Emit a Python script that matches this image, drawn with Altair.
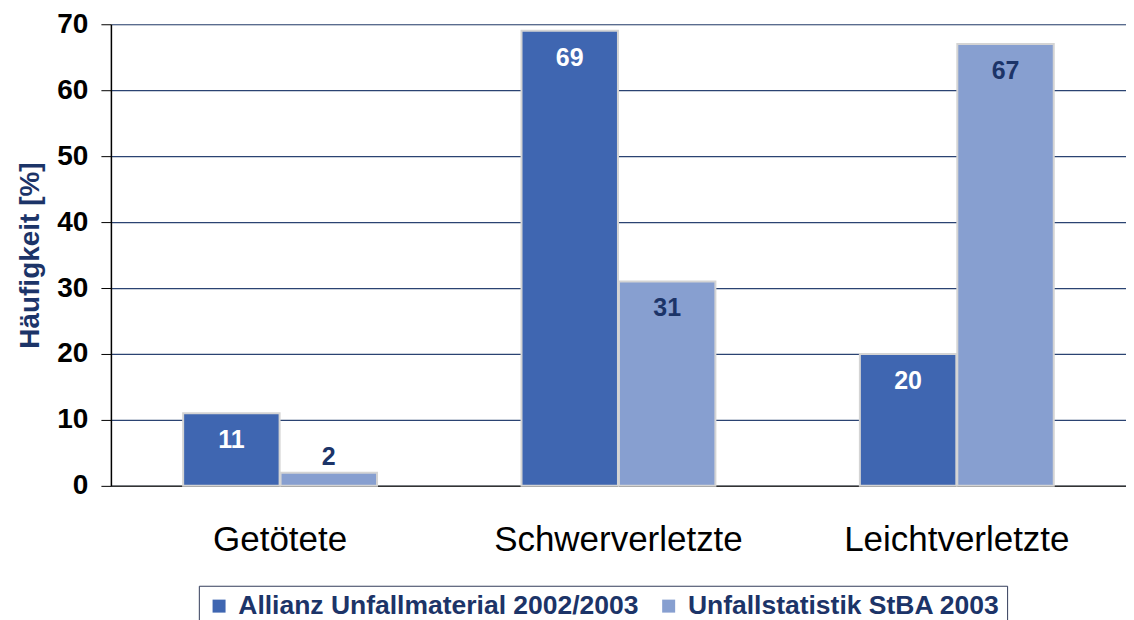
import altair as alt
import pandas as pd

categories = ["Getötete", "Schwerverletzte", "Leichtverletzte"]
series = ["Allianz Unfallmaterial 2002/2003", "Unfallstatistik StBA 2003"]
allianz = [11, 69, 20]
stba = [2, 31, 67]

rows = []
for c, a, s in zip(categories, allianz, stba):
    rows.append({"cat": c, "series": series[0], "value": a})
    rows.append({"cat": c, "series": series[1], "value": s})
df = pd.DataFrame(rows)

colors = ["#3f66b1", "#879fd0"]
navy = "#1c3468"

x = alt.X("cat:N", sort=categories, title=None,
          scale=alt.Scale(paddingInner=0.427, paddingOuter=0.2135),
          axis=alt.Axis(labelAngle=0, labelFontSize=35, labelFont="Liberation Sans",
                        labelColor="black", labelPadding=37, ticks=False, labelLimit=600,
                        domainColor="#333333", domainWidth=1.5))
xo = alt.XOffset("series:N", sort=series, scale=alt.Scale(paddingInner=0.01))
y = alt.Y("value:Q", title="Häufigkeit [%]",
          scale=alt.Scale(domain=[0, 70]),
          axis=alt.Axis(values=[0, 10, 20, 30, 40, 50, 60, 70], labelFontSize=28,
                        labelFontWeight="bold", labelColor="black", labelFont="Liberation Sans",
                        titleFont="Liberation Sans", titleFontSize=28, titleFontWeight="bold",
                        titleColor=navy, titlePadding=12, labelPadding=13,
                        gridColor="#2b4372", gridWidth=1.2, gridOpacity=1,
                        domainColor="black", domainWidth=1.5, tickColor="black", tickSize=10))

base = alt.Chart(df).encode(x=x, xOffset=xo)

bars = base.mark_bar(stroke="#d4d4d4", strokeWidth=2).encode(
    y=y,
    color=alt.Color("series:N", sort=series,
                    scale=alt.Scale(domain=series, range=colors),
                    legend=alt.Legend(title=None, orient="none", legendX=88, legendY=562,
                                      direction="horizontal", symbolType="square",
                                      symbolSize=169, labelFontSize=26.5, labelFontWeight="bold",
                                      labelColor=navy, labelFont="Liberation Sans",
                                      strokeColor="#333c5a", padding=7, columnPadding=16,
                                      symbolStrokeWidth=0, labelLimit=600, labelOffset=6))
)

labels_in = base.mark_text(baseline="middle", dy=27, fontSize=25, fontWeight="bold",
                           font="Liberation Sans").encode(
    y=alt.Y("value:Q"),
    text="value:Q",
    color=alt.Color("series:N", sort=series,
                    scale=alt.Scale(domain=series, range=["#ffffff", navy]), legend=None),
).transform_filter("datum.value >= 5")

labels_out = base.mark_text(baseline="bottom", dy=-3, fontSize=25, fontWeight="bold",
                            font="Liberation Sans", color=navy).encode(
    y=alt.Y("value:Q"),
    text="value:Q",
).transform_filter("datum.value < 5")

chart = alt.layer(bars, labels_in, labels_out).resolve_scale(color="independent").properties(
    width=1016, height=462
).configure_view(stroke=None).configure(padding={"left": 8, "top": 2, "right": 0, "bottom": 0})

chart.save("out.html", embed_options={"renderer": "svg", "actions": False})
